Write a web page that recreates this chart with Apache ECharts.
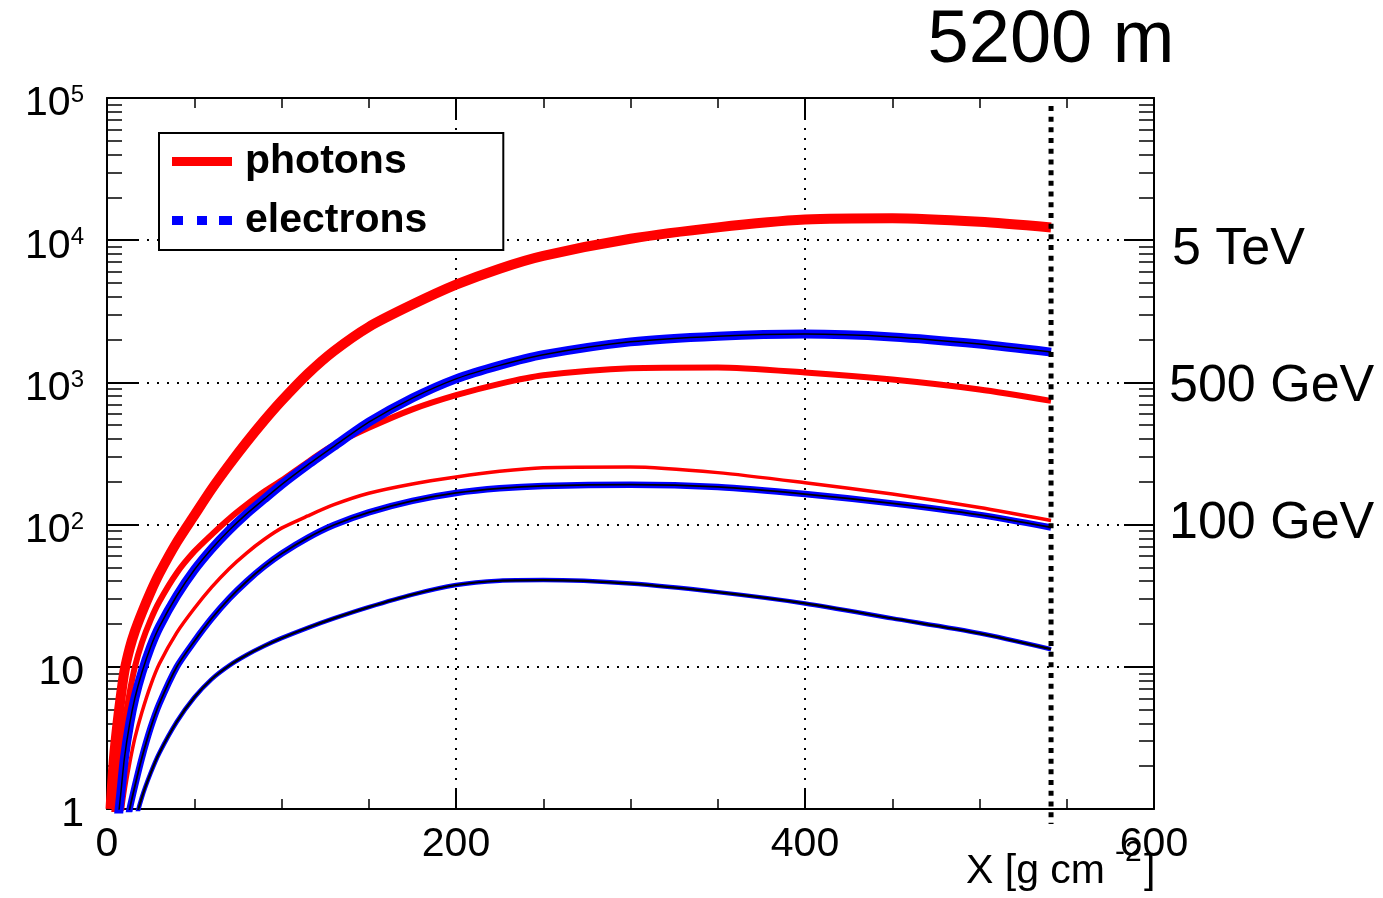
<!DOCTYPE html>
<html>
<head>
<meta charset="utf-8">
<script src="https://cdn.jsdelivr.net/npm/echarts@6.0.0/dist/echarts.min.js"></script>
<style>
  html, body { margin: 0; padding: 0; background: #fff; }
  #chart { width: 1383px; height: 898px; }
</style>
</head>
<body>
<div id="chart"></div>
<script>
// ---- data ----
const xs = [2, 4, 6, 8, 10, 13, 16, 20, 25, 30, 40, 50, 60, 70, 80, 90, 100, 115, 130, 150, 175, 200, 225, 250, 300, 350, 400, 450, 500, 541];
const photons5TeV     = [1, 2.29, 3.98, 6.31, 9.33, 13.5, 17.8, 24.0, 33.6, 45.3, 75.2, 116, 178, 263, 380, 537, 741, 1148, 1660, 2455, 3524, 4864, 6310, 7762, 10233, 12303, 13964, 14289, 13490, 12303];
const electrons5TeV   = [0.158, 0.355, 0.759, 1.32, 2.29, 3.98, 6.03, 9.12, 13.8, 19.1, 31.6, 47.9, 67.6, 91.2, 119, 151, 191, 263, 355, 525, 776, 1059, 1318, 1567, 1928, 2113, 2188, 2089, 1862, 1633];
const photons500GeV   = [0.316, 0.891, 1.58, 2.63, 3.98, 6.61, 10, 14.8, 21.4, 28.8, 45.7, 64.6, 85.1, 110, 138, 170, 204, 275, 363, 479, 646, 813, 977, 1122, 1259, 1274, 1175, 1047, 891, 741];
const photons100GeV   = [0.063, 0.2, 0.447, 0.794, 1.26, 2.09, 3.16, 4.79, 7.41, 10.5, 17.4, 25.7, 36.3, 49.0, 63.1, 78.5, 94.4, 115, 138, 166, 193, 216, 237, 251, 254, 232, 197, 164, 132, 107];
const electrons500GeV = [0.063, 0.126, 0.224, 0.398, 0.631, 1.0, 1.45, 2.29, 3.72, 5.50, 10, 15.1, 21.9, 30.2, 39.8, 50.7, 62.4, 80.7, 99.3, 122, 147, 167, 180, 187, 191, 184, 164, 141, 117, 95.5];
const electrons100GeV = [0.05, 0.079, 0.126, 0.2, 0.316, 0.525, 0.794, 1.21, 1.79, 2.48, 4.11, 6.08, 8.20, 10.2, 12.1, 14.0, 15.9, 18.8, 21.9, 26.3, 32.2, 37.6, 40.3, 40.7, 38.5, 33.5, 27.9, 21.9, 17.2, 13.3];
const cutLine = [[541, 0.785, 87900]];   // vertical dotted line: x, y-bottom, y-top
const xRange = [0, 600];
const yRange = [1, 100000];
const energyLabels = ['5 TeV', '500 GeV', '100 GeV'];
const titleText = '5200 m';

const FONT = '"Liberation Sans", Arial, Helvetica, sans-serif';
const pairs = arr => xs.map((x, i) => [x, arr[i]]);

function lineSeries(name, data, color, width, z) {
  return {
    name: name, type: 'line', data: pairs(data),
    xAxisIndex: 0, yAxisIndex: 0,
    showSymbol: false, symbol: 'none', smooth: 0.25, clip: true,
    lineStyle: { color: color, width: width, cap: 'butt', join: 'round' },
    itemStyle: { color: color },
    z: z, silent: true
  };
}

const chart = echarts.init(document.getElementById('chart'), null, { renderer: 'canvas' });

const xAxisBase = {
  type: 'value', min: xRange[0], max: xRange[1], interval: 200,
  axisLine: { show: true, onZero: false, lineStyle: { color: '#000', width: 2 } },
  axisTick: { show: true, inside: true, length: 20, lineStyle: { color: '#000', width: 2 } },
  minorTick: { show: true, splitNumber: 4, length: 10, lineStyle: { color: '#000', width: 1.5 } },
};
const yAxisBase = {
  type: 'log', logBase: 10, min: yRange[0], max: yRange[1],
  axisLine: { show: true, onZero: false, lineStyle: { color: '#000', width: 2 } },
  axisTick: { show: true, inside: true, length: 30, lineStyle: { color: '#000', width: 2 } },
  minorTick: { show: true, splitNumber: 9, length: 15, lineStyle: { color: '#000', width: 1.5 } },
};

const txt = (text, x, y, size, align) => ({
  type: 'text', x: x, y: y, silent: true,
  style: { text: text, font: size + 'px ' + FONT, fill: '#000', textAlign: align, textVerticalAlign: 'middle', verticalAlign: 'middle' }
});

const option = {
  backgroundColor: '#fff',
  animation: false,
  grid: { left: 107, top: 98, width: 1047, height: 711, containLabel: false },
  xAxis: [
    Object.assign({}, xAxisBase, {
      position: 'bottom',
      axisLabel: { show: true, margin: 15, fontSize: 41, fontFamily: FONT, color: '#000', lineHeight: 41 },
      splitLine: { show: true, lineStyle: { color: '#000', width: 2, type: [2, 8] } }
    }),
    Object.assign({}, xAxisBase, {
      position: 'top',
      axisLabel: { show: false },
      splitLine: { show: false }
    })
  ],
  yAxis: [
    Object.assign({}, yAxisBase, {
      position: 'left',
      axisLabel: {
        show: true, margin: 23, padding: [12, 0, 0, 0],
        formatter: function (v) {
          const e = Math.round(Math.log10(v));
          if (e === 0) return '{b|1}';
          if (e === 1) return '{b|10}';
          return '{b|10}{s|' + e + '}';
        },
        rich: {
          b: { fontSize: 41, fontFamily: FONT, color: '#000', lineHeight: 41 },
          s: { fontSize: 24, fontFamily: FONT, color: '#000', lineHeight: 24, verticalAlign: 'top' }
        }
      },
      splitLine: { show: true, lineStyle: { color: '#000', width: 2, type: [2, 8] } }
    }),
    Object.assign({}, yAxisBase, {
      position: 'right',
      axisLabel: { show: false },
      splitLine: { show: false }
    })
  ],
  legend: {
    left: 159, top: 133, orient: 'vertical',
    padding: [8, 76, 9, 13], itemGap: 18,
    itemWidth: 60, itemHeight: 9,
    borderColor: '#000', borderWidth: 2, backgroundColor: '#fff',
    selectedMode: false,
    textStyle: { fontSize: 41, fontWeight: 'bold', fontFamily: FONT, color: '#000', lineHeight: 41, padding: [0, 0, 0, 8] },
    data: [
      { name: 'photons', icon: 'path://M0,0H60V9H0Z', itemStyle: { color: '#ff0000', borderWidth: 0 } },
      { name: 'electrons', icon: 'path://M0,0H11V9H0ZM25,0H35V9H25ZM47,0H60V9H47Z', itemStyle: { color: '#0000ff', borderWidth: 0 } }
    ]
  },
  graphic: [
    txt(titleText, 1051, 42, 74, 'center'),
    txt(energyLabels[0], 1172, 250, 52, 'left'),
    txt(energyLabels[1], 1169, 387, 52, 'left'),
    txt(energyLabels[2], 1169, 524, 52, 'left'),
    txt('X [g cm', 966, 872, 41, 'left'),
    txt('-2', 1115, 853, 30, 'left'),
    txt(']', 1144, 872, 41, 'left')
  ],
  series: [
    lineSeries('photons', photons5TeV, '#ff0000', 10, 3),
    lineSeries('photons', photons500GeV, '#ff0000', 6, 3),
    lineSeries('photons', photons100GeV, '#ff0000', 3.5, 3),
    lineSeries('electrons', electrons5TeV, '#0000ff', 9, 4),
    lineSeries('electrons', electrons500GeV, '#0000ff', 6.5, 4),
    lineSeries('electrons', electrons100GeV, '#0000ff', 4.5, 4),
    lineSeries('electrons', electrons5TeV, '#000000', 1.5, 5),
    lineSeries('electrons', electrons500GeV, '#000000', 1.8, 5),
    lineSeries('electrons', electrons100GeV, '#000000', 2.2, 5),
    {
      type: 'custom', name: 'cut', data: cutLine, clip: false, silent: true, z: 10,
      xAxisIndex: 0, yAxisIndex: 0,
      encode: { x: 0, y: [1, 2] },
      renderItem: function (params, api) {
        const p1 = api.coord([api.value(0), api.value(2)]);
        const p2 = api.coord([api.value(0), api.value(1)]);
        return {
          type: 'line',
          shape: { x1: p1[0], y1: p1[1], x2: p2[0], y2: p2[1] },
          style: { stroke: '#000', lineWidth: 5, lineDash: [5, 5.7] }
        };
      }
    }
  ]
};
chart.setOption(option);
</script>
</body>
</html>
